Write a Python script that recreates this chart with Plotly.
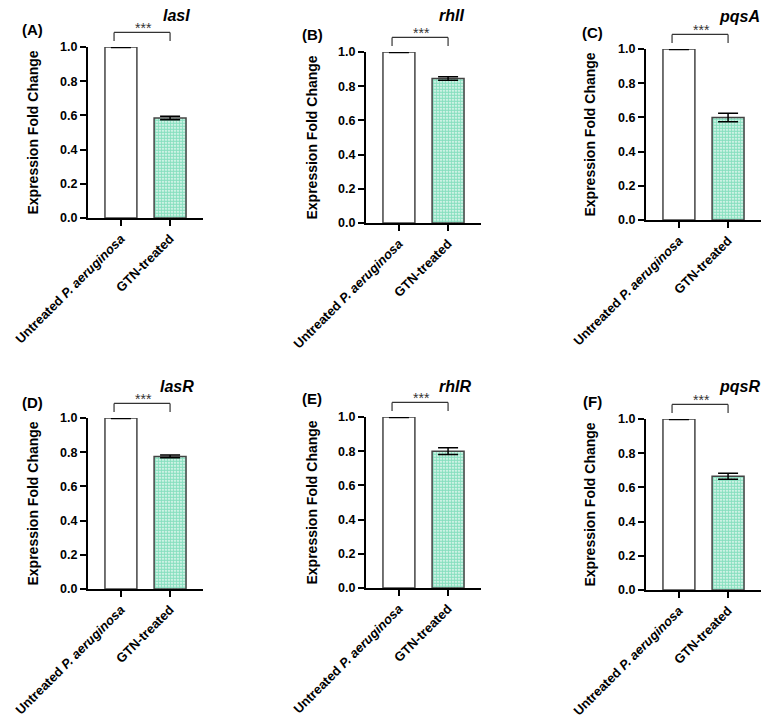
import plotly.graph_objects as go

# ---------------- data ----------------
categories = ["Untreated <i>P. aeruginosa</i>", "GTN-treated"]
genes = ["lasI", "rhlI", "pqsA", "lasR", "rhlR", "pqsR"]
panel_labels = ["(A)", "(B)", "(C)", "(D)", "(E)", "(F)"]
untreated_values = [1.0, 1.0, 1.0, 1.0, 1.0, 1.0]
untreated_errors = [0.003, 0.003, 0.003, 0.003, 0.003, 0.003]
treated_values = [0.585, 0.845, 0.60, 0.775, 0.80, 0.665]
treated_errors = [0.01, 0.01, 0.025, 0.008, 0.02, 0.018]
significance = ["***", "***", "***", "***", "***", "***"]
y_ticks = [0.0, 0.2, 0.4, 0.6, 0.8, 1.0]
y_title = "Expression Fold Change"

# ---------------- layout geometry (window pixels) ----------------
W, H = 772, 721
PAGE_OFFSET = 8  # default body margin of the html page
# (left, right, top, bottom) of each plot area
boxes = [(88, 203, 47, 218), (366, 481, 52, 223), (646, 761, 49, 220),
         (88, 203, 418, 589), (366, 481, 417, 588), (646, 761, 419, 590)]
title_pos = [(176, 16), (451, 16), (739, 17), (177, 386), (455, 386), (739, 386)]
label_pos = [(33, 30), (312, 35), (592, 33), (33, 402), (312, 398), (592, 401)]
ytitle_x = [32, 311, 589, 32, 311, 589]


def fx(p):
    return (p - PAGE_OFFSET) / W


def fy(p):
    return 1 - (p - PAGE_OFFSET) / H


FONT = "Arial, Liberation Sans, sans-serif"
GREEN = "#10c080"
EDGE = "#444444"

fig = go.Figure()
annotations = []
shapes = []
layout_axes = {}

for i, gene in enumerate(genes):
    n = "" if i == 0 else str(i + 1)
    xid, yid = "x" + n, "y" + n
    l, r, t, b = boxes[i]
    x_pos = [0, 1]

    fig.add_trace(go.Bar(
        x=[x_pos[0]], y=[untreated_values[i]], xaxis=xid, yaxis=yid,
        width=0.65, cliponaxis=False, showlegend=False,
        marker=dict(color="white", line=dict(color=EDGE, width=1.5)),
        error_y=dict(type="data", array=[untreated_errors[i]], color="black",
                     thickness=1.5, width=10),
    ))
    fig.add_trace(go.Bar(
        x=[x_pos[1]], y=[treated_values[i]], xaxis=xid, yaxis=yid,
        width=0.65, cliponaxis=False, showlegend=False,
        marker=dict(color="white", line=dict(color=EDGE, width=1.5),
                    pattern=dict(shape=".", fgcolor=GREEN, bgcolor="white",
                                 size=3, solidity=0.75)),
        error_y=dict(type="data", array=[treated_errors[i]], color="black",
                     thickness=1.5, width=10),
    ))

    layout_axes["xaxis" + n] = dict(
        domain=[fx(l), fx(r)], anchor=yid, range=[-0.67, 1.67],
        automargin=False,
        tickmode="array", tickvals=x_pos, ticktext=categories, tickangle=-45,
        ticks="outside", ticklen=6, tickwidth=2, tickcolor="black",
        showline=True, linewidth=2, linecolor="black",
        showgrid=False, zeroline=False, fixedrange=True,
        tickfont=dict(family=FONT, size=13, color="black", weight="bold"),
    )
    layout_axes["yaxis" + n] = dict(
        domain=[fy(b), fy(t)], anchor=xid, range=[0, 1],
        automargin=False,
        tickmode="array", tickvals=y_ticks, tickformat=".1f",
        ticks="outside", ticklen=6, tickwidth=2, tickcolor="black",
        showline=True, linewidth=2, linecolor="black",
        showgrid=False, zeroline=False, fixedrange=True,
        tickfont=dict(family=FONT, size=12.5, color="black", weight="bold"),
    )

    # significance bracket
    yb, yl = 1.085, 1.035
    xl, xr = -0.14, 1.0
    for (x0, y0, x1, y1) in [(xl, yl, xl, yb), (xl, yb, xr, yb), (xr, yb, xr, yl)]:
        shapes.append(dict(type="line", xref=xid, yref=yid + " domain",
                           x0=x0, y0=y0, x1=x1, y1=y1,
                           line=dict(color="#333333", width=1.2)))
    annotations.append(dict(
        x=0.46, y=yb, xref=xid, yref=yid + " domain", text=significance[i],
        showarrow=False, xanchor="center", yanchor="bottom", yshift=-6,
        font=dict(family=FONT, size=14, color="#333333"),
    ))

    # gene title
    tx, ty = title_pos[i]
    annotations.append(dict(
        x=fx(tx), y=fy(ty), xref="paper", yref="paper",
        text="<b><i>" + gene + "</i></b>", showarrow=False,
        xanchor="center", yanchor="middle",
        font=dict(family=FONT, size=16, color="black"),
    ))
    # panel label
    px_, py_ = label_pos[i]
    annotations.append(dict(
        x=fx(px_), y=fy(py_), xref="paper", yref="paper",
        text="<b>" + panel_labels[i] + "</b>", showarrow=False,
        xanchor="center", yanchor="middle",
        font=dict(family=FONT, size=15, color="black"),
    ))
    # y-axis title
    annotations.append(dict(
        x=fx(ytitle_x[i]), y=fy((t + b) / 2), xref="paper", yref="paper",
        text="<b>" + y_title + "</b>", showarrow=False, textangle=-90,
        xanchor="center", yanchor="middle",
        font=dict(family=FONT, size=14, color="black"),
    ))

fig.update_layout(
    width=W, height=H,
    margin=dict(l=0, r=0, t=0, b=0, autoexpand=False),
    paper_bgcolor="white", plot_bgcolor="white",
    showlegend=False, barmode="overlay",
    annotations=annotations, shapes=shapes,
    **layout_axes,
)

fig.write_html("out.html")
